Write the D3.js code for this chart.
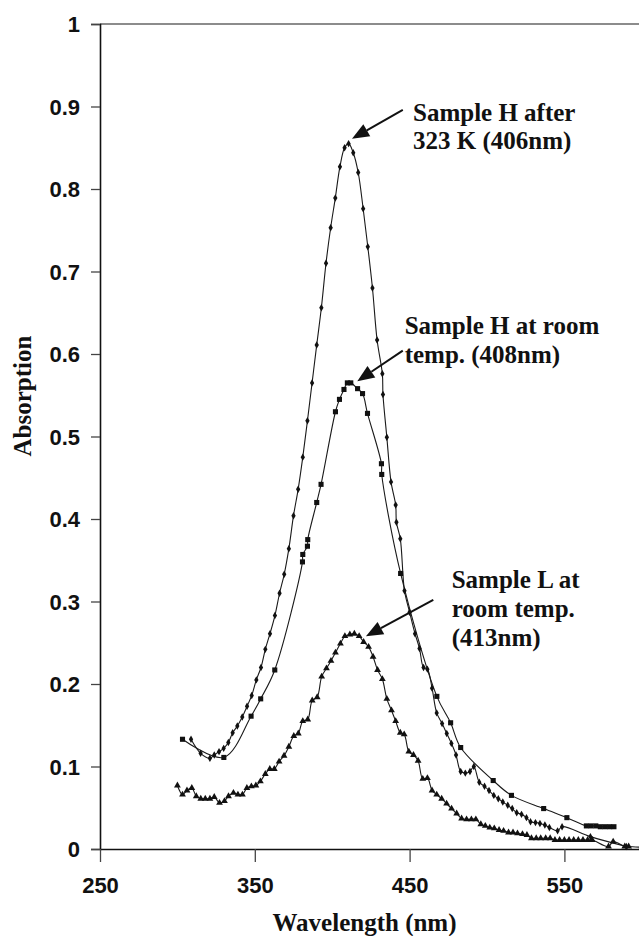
<!DOCTYPE html>
<html>
<head>
<meta charset="utf-8">
<script src="https://cdn.jsdelivr.net/npm/d3@7"></script>
<style>
  html, body { margin: 0; padding: 0; background: #fff; }
  svg { display: block; }
</style>
</head>
<body>
<svg id="chart" width="639" height="936"></svg>
<script>
// ---------- DATA (wavelength nm, absorption) ----------
const xTicks = [250, 350, 450, 550];
const yTicks = [0, 0.1, 0.2, 0.3, 0.4, 0.5, 0.6, 0.7, 0.8, 0.9, 1];

const sampleHAfter = [ // diamonds
  [308.8,0.133],[315,0.116],[321,0.110],[323.8,0.114],[326.9,0.118],[329.9,0.122],[332.9,0.129],
  [335.7,0.141],[338.7,0.149],[341.9,0.160],[345,0.173],[348,0.186],[351,0.205],[354,0.220],
  [356.8,0.242],[359.8,0.261],[363,0.283],[366,0.310],[369,0.333],[372,0.364],[375,0.404],
  [378,0.436],[381,0.475],[384,0.519],[387,0.565],[390,0.611],[393,0.656],[396,0.710],
  [399,0.753],[402,0.789],[405,0.827],[408,0.850],[410.6,0.855],[413.6,0.844],[416.8,0.820],
  [420,0.776],[423,0.730],[426,0.680],[429,0.617],[432.4,0.576],[432.8,0.551],[435.3,0.499],
  [438,0.445],[441,0.417],[441.5,0.396],[444,0.376],[446.7,0.313],[450,0.287],[453.5,0.261],
  [456.4,0.243],[459,0.220],[461.5,0.218],[464.5,0.195],[467.5,0.165],[471,0.152],[474,0.140],
  [477,0.128],[480,0.114],[483,0.094],[486,0.092],[489,0.094],[491.5,0.100],[495,0.081],
  [498.4,0.076],[501.3,0.071],[504.4,0.065],[507.3,0.061],[510.2,0.057],[513.4,0.053],
  [516.3,0.049],[519.2,0.044],[522.3,0.042],[525.5,0.038],[528.1,0.033],[531.3,0.032],
  [534.2,0.031],[537.4,0.029],[540.3,0.026],[545.6,0.022],[548.5,0.027],[566.8,0.015],
  [590,0.003]
];

const sampleHRoom = [ // squares
  [303.3,0.133],[330,0.111],[347.6,0.161],[353.8,0.182],[362.9,0.217],[380.8,0.348],[381,0.357],
  [384,0.367],[384.2,0.375],[390,0.420],[392.8,0.442],[402.1,0.530],[404.7,0.545],[407.6,0.557],
  [409.8,0.565],[412,0.565],[416.4,0.558],[419.6,0.552],[422.8,0.528],[431.8,0.467],[432,0.454],
  [444.2,0.334],[467.6,0.185],[476.5,0.153],[483,0.123],[504,0.083],[515.8,0.065],[536.6,0.049],
  [551.6,0.038],[564.2,0.028],[567.2,0.028],[570.3,0.028],[573.2,0.027],[576.2,0.027],
  [579.2,0.027],[582,0.027]
];

const sampleLRoom = [ // triangles
  [300,0.077],[303.3,0.066],[306.2,0.071],[309.3,0.074],[312.2,0.064],[315.1,0.061],[318,0.061],
  [321,0.061],[323.8,0.063],[327.2,0.056],[330.4,0.058],[333,0.064],[336.2,0.068],[339.1,0.066],
  [342,0.066],[344.9,0.074],[347.8,0.076],[350.7,0.077],[353.6,0.082],[356.8,0.091],[359.7,0.097],
  [362.6,0.097],[365.7,0.106],[368.9,0.113],[372,0.124],[375.2,0.137],[378.1,0.140],[381,0.155],
  [384.2,0.157],[387.1,0.180],[390.3,0.184],[393.2,0.209],[396.3,0.219],[399.2,0.228],
  [402.1,0.238],[405.3,0.249],[408.2,0.258],[411.4,0.260],[414.3,0.261],[417.4,0.258],
  [420.3,0.251],[423.5,0.245],[426.4,0.233],[429.3,0.217],[432.4,0.206],[435.3,0.182],
  [438.3,0.168],[441,0.155],[444,0.141],[446.5,0.139],[449.5,0.118],[452.5,0.114],[455.5,0.107],
  [458.5,0.085],[461.5,0.086],[464.5,0.071],[467.5,0.066],[470.7,0.061],[473.9,0.055],
  [477.1,0.049],[480.4,0.043],[483.6,0.037],[486.8,0.036],[489.9,0.036],[492.8,0.036],
  [496,0.030],[498.9,0.028],[501.8,0.026],[504.7,0.025],[507.8,0.023],[510.7,0.022],
  [513.9,0.020],[516.8,0.020],[519.7,0.019],[522.9,0.018],[525.8,0.017],[528.7,0.013],
  [531.8,0.013],[534.7,0.013],[537.9,0.013],[540.8,0.013],[543.9,0.011],[546.9,0.011],
  [550,0.011],[553,0.011],[556,0.011],[559,0.011],[562,0.011],[565,0.011],[568,0.011],
  [578.5,0.003],[581.5,0.009],[589,0.003],[591.5,0.003],[600,0.002]
];

// Annotations: text lines, text anchor point, arrow start, arrow tip (data units)
const annoHAfter = { lines: ["Sample H after", "323 K (406nm)"], text: [452.2, 0.883], from: [445.6, 0.896], to: [412.8, 0.861] };
const annoHRoom  = { lines: ["Sample H at room", "temp. (408nm)"], text: [446.8, 0.624], from: [445.6, 0.604], to: [416.2, 0.567] };
const annoLRoom  = { lines: ["Sample L at", "room temp.", "(413nm)"], text: [477.2, 0.316], from: [465.3, 0.302], to: [421.8, 0.258] };

// ---------- LAYOUT ----------
const svg = d3.select("#chart");
const x = d3.scaleLinear().domain([250, 600]).range([100, 641.8]);
const y = d3.scaleLinear().domain([0, 1]).range([849, 24]);
const ink = "#111";
const sansBold = "'Liberation Sans', Arial, sans-serif";
const serif = "'Liberation Serif', 'Times New Roman', serif";

// top frame line
svg.append("line")
  .attr("x1", x(250)).attr("x2", 639)
  .attr("y1", y(1)).attr("y2", y(1))
  .attr("stroke", "#666").attr("stroke-width", 1.5);

// Y axis
const yAxis = svg.append("g").attr("transform", `translate(${x(250)},0)`)
  .call(d3.axisLeft(y).tickValues(yTicks).tickSize(9).tickPadding(11)
    .tickFormat(d => d === 0 ? "0" : d === 1 ? "1" : d3.format(".1f")(d)));
yAxis.select(".domain").attr("stroke", ink).attr("stroke-width", 1.6);
yAxis.selectAll(".tick line").attr("stroke", "#444").attr("stroke-width", 1.3);
yAxis.selectAll(".tick text").attr("font-family", sansBold).attr("font-weight", "bold")
  .attr("font-size", 22).attr("fill", ink).attr("dy", "0.36em");

// X axis
const xAxis = svg.append("g").attr("transform", `translate(0,${y(0)})`)
  .call(d3.axisBottom(x).tickValues(xTicks).tickSize(13).tickSizeOuter(0));
xAxis.select(".domain").attr("stroke", ink).attr("stroke-width", 1.6);
xAxis.selectAll(".tick line").attr("stroke", "#444").attr("stroke-width", 1.3);
xAxis.selectAll(".tick text").attr("font-family", sansBold).attr("font-weight", "bold")
  .attr("font-size", 22).attr("fill", ink).attr("y", 44).attr("dy", 0);

// Axis titles
svg.append("text").text("Wavelength (nm)")
  .attr("x", 364.5).attr("y", 931).attr("text-anchor", "middle")
  .attr("font-family", serif).attr("font-weight", "bold").attr("font-size", 25).attr("fill", ink);
svg.append("text").text("Absorption")
  .attr("transform", "translate(31,396) rotate(-90)").attr("text-anchor", "middle")
  .attr("font-family", serif).attr("font-weight", "bold").attr("font-size", 25).attr("fill", ink);

// Series
const line = d3.line().x(d => x(d[0])).y(d => y(d[1])).curve(d3.curveCatmullRom.alpha(0.5));
const plot = svg.append("g");
const series = [
  { data: sampleHAfter, sym: d3.symbolDiamond, size: 16 },
  { data: sampleHRoom,  sym: d3.symbolSquare,  size: 26 },
  { data: sampleLRoom,  sym: d3.symbolTriangle, size: 20 }
];
series.forEach(s => {
  plot.append("path").datum(s.data).attr("d", line)
    .attr("fill", "none").attr("stroke", "#1a1a1a").attr("stroke-width", 1.1);
});
series.forEach(s => {
  plot.selectAll(null).data(s.data).enter().append("path")
    .attr("d", d3.symbol().type(s.sym).size(s.size))
    .attr("transform", d => `translate(${x(d[0])},${y(d[1])})`)
    .attr("fill", "#111");
});

// Annotations
function annotate(a) {
  const x1 = x(a.from[0]), y1 = y(a.from[1]), x2 = x(a.to[0]), y2 = y(a.to[1]);
  const ang = Math.atan2(y2 - y1, x2 - x1);
  const headLen = 17, headW = 7;
  const bx = x2 - headLen * Math.cos(ang), by = y2 - headLen * Math.sin(ang);
  svg.append("line").attr("x1", x1).attr("y1", y1).attr("x2", bx).attr("y2", by)
    .attr("stroke", ink).attr("stroke-width", 2);
  const px = -Math.sin(ang), py = Math.cos(ang);
  svg.append("path")
    .attr("d", `M${x2},${y2}L${bx + px * headW},${by + py * headW}L${bx - px * headW},${by - py * headW}Z`)
    .attr("fill", ink);
  const t = svg.append("text").attr("font-family", serif).attr("font-weight", "bold")
    .attr("font-size", 25).attr("fill", ink);
  a.lines.forEach((l, i) => {
    t.append("tspan").attr("x", x(a.text[0])).attr("y", y(a.text[1]) + i * 28.7).text(l);
  });
}
[annoHAfter, annoHRoom, annoLRoom].forEach(annotate);
</script>
</body>
</html>
